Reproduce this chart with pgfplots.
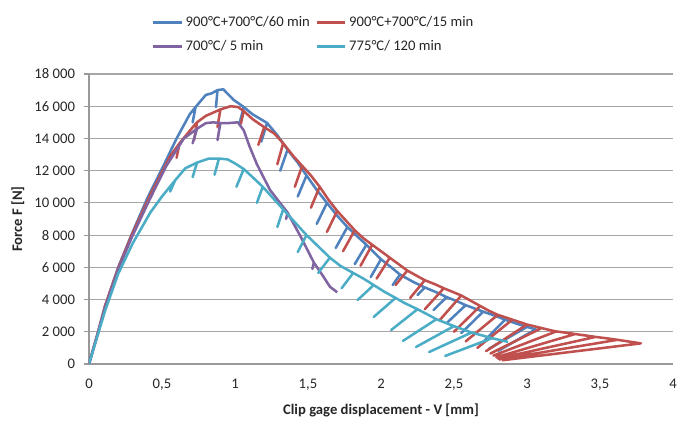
\documentclass[border=0pt]{standalone}
\usepackage{fontspec}
\setmainfont{Carlito}
\usepackage{pgfplots}
\pgfplotsset{compat=1.18}
\definecolor{cblue}{HTML}{4F81BD}
\definecolor{cred}{HTML}{C0504D}
\definecolor{cpurple}{HTML}{8064A2}
\definecolor{ccyan}{HTML}{4BACC6}
\begin{document}
\begin{tikzpicture}
\begin{axis}[
  scale only axis, width=438pt, height=217.5pt,
  xmin=0, xmax=4, ymin=0, ymax=18000,
  xtick={0,0.5,1,1.5,2,2.5,3,3.5,4},
  ytick={0,2000,4000,6000,8000,10000,12000,14000,16000,18000},
  scaled y ticks=false,
  axis x line*=bottom, axis y line*=left,
  axis line style={draw=black!40, line width=0.9pt, -},
  ymajorgrids, grid style={black!35, line width=0.9pt},
  tick align=outside, major tick length=4pt,
  xtick style={draw=none}, ytick style={draw=black!40, line width=0.9pt},
  tick label style={font=\fontsize{11}{13}\selectfont, text=black!85},
  xticklabel style={yshift=-4pt},
  yticklabel style={xshift=-3pt},
  /pgf/number format/.cd, use comma, 1000 sep={\ }, assume math mode=true,
  /pgfplots/.cd,
  xlabel={\textbf{Clip gage displacement - V [mm]}},
  ylabel={\textbf{Force F [N]}},
  label style={font=\fontsize{11}{13}\selectfont, text=black!85},
  x label style={at={(axis description cs:0.5,-0.159)}, anchor=center},
  y label style={at={(axis description cs:-0.122,0.5)}, anchor=center},
  legend columns=2,
  legend cell align=left,
  legend style={at={(axis description cs:0.1,1.055)}, anchor=south west, draw=none, fill=none,
    font=\fontsize{11}{13}\selectfont, text=black!85, row sep=5pt,
    /tikz/every even column/.append style={column sep=2pt}},
  legend image post style={line width=2.2pt},
  legend image code/.code={\draw[#1] (0cm,0cm) -- (0.75cm,0cm);},
  every axis plot/.append style={line width=1.9pt, line join=round},
]
\coordinate (bbsw) at (rel axis cs:-0.1524,-0.2103);
\coordinate (bbne) at (rel axis cs:1.0086,1.2552);

\addplot[cblue] coordinates {
(0,0)(0.06,1920)(0.11,3600)(0.2,6000)(0.29,8000)(0.4,10300)(0.51,12300)(0.6,14000)(0.69,15500)
(0.73,15950)(0.71,15000)(0.73,15950)(0.8,16700)(0.84,16800)(0.88,17000)(0.87,15950)(0.88,17000)
(0.92,17050)(0.99,16400)(1.06,15950)(1.03,14900)(1.06,15950)(1.12,15500)(1.22,14960)(1.18,13800)
(1.22,14960)(1.29,14200)(1.36,13300)(1.31,12000)(1.36,13300)(1.43,12500)(1.49,11700)(1.43,10400)
(1.49,11700)(1.56,10800)(1.63,10000)(1.56,8700)(1.63,10000)(1.70,9200)(1.77,8500)(1.69,7200)
(1.77,8500)(1.84,7900)(1.9,7400)(1.82,6200)(1.9,7400)(1.95,6950)(2.0,6500)(1.93,5400)(2.0,6500)
(2.07,6000)(2.13,5550)(2.08,4900)(2.13,5550)(2.22,5100)(2.3,4750)(2.25,4280)(2.3,4750)(2.38,4450)
(2.45,4150)(2.36,3350)(2.45,4150)(2.52,3900)(2.58,3650)(2.45,2540)(2.58,3650)(2.64,3450)(2.7,3250)
(2.55,1920)(2.7,3250)(2.78,3000)(2.85,2750)(2.68,1180)(2.85,2750)(2.93,2500)(3.0,2300)(2.74,950)
(3.0,2300)(3.06,2150)(2.8,800)
};
\addlegendentry{900°C+700°C/60 min}

\addplot[cred] coordinates {
(0,0)(0.06,1920)(0.11,3600)(0.2,5950)(0.29,7950)(0.42,10500)(0.556,12900)(0.62,13700)(0.60,12800)
(0.62,13700)(0.72,14800)(0.74,15000)(0.72,13900)(0.74,15000)(0.8,15400)(0.9,15800)(0.88,14700)
(0.9,15800)(0.97,16000)(1.02,15950)(1.06,15700)(1.04,14900)(1.06,15700)(1.12,15200)(1.2,14700)
(1.16,13600)(1.2,14700)(1.27,14300)(1.33,13700)(1.29,12400)(1.33,13700)(1.40,12900)(1.46,12300)
(1.41,11000)(1.46,12300)(1.52,11700)(1.58,11000)(1.52,9700)(1.58,11000)(1.64,10200)(1.70,9500)
(1.63,8200)(1.70,9500)(1.76,8900)(1.82,8300)(1.74,7000)(1.82,8300)(1.88,7800)(1.94,7400)(1.86,6100)
(1.94,7400)(2.0,7000)(2.06,6600)(1.97,5300)(2.06,6600)(2.12,6200)(2.18,5800)(2.1,4900)(2.18,5800)
(2.24,5500)(2.3,5200)(2.2,4100)(2.3,5200)(2.37,4950)(2.43,4700)(2.3,3400)(2.43,4700)(2.49,4480)
(2.55,4250)(2.4,2700)(2.55,4250)(2.62,3900)(2.68,3600)(2.5,2000)(2.68,3600)(2.74,3300)(2.8,3050)
(2.58,1400)(2.8,3050)(2.85,2900)(2.9,2750)(2.66,1000)(2.9,2750)(2.95,2600)(3.0,2450)(2.72,800)
(3.0,2450)(3.05,2340)(3.1,2230)(2.75,650)(3.1,2230)(3.15,2120)(3.2,2020)(2.77,520)(3.2,2020)
(3.27,1940)(3.33,1860)(2.79,420)(3.33,1860)(3.4,1770)(3.47,1680)(2.8,340)(3.47,1680)(3.55,1590)
(3.62,1500)(2.81,280)(3.62,1500)(3.7,1390)(3.78,1280)(2.83,230)
};
\addlegendentry{900°C+700°C/15 min}

\addplot[cpurple] coordinates {
(0,0)(0.06,1880)(0.11,3500)(0.2,5850)(0.29,7800)(0.42,10300)(0.53,12300)(0.65,14000)(0.74,14600)
(0.71,13700)(0.74,14600)(0.8,14950)(0.85,15000)(0.9,14950)(0.88,13900)(0.9,14950)(0.95,14950)
(1.02,15000)(1.06,14500)(1.1,13500)(1.15,12400)(1.24,10800)(1.3,10100)(1.36,9400)(1.35,9000)
(1.36,9400)(1.45,7900)(1.54,6300)(1.53,5900)(1.54,6300)(1.6,5500)(1.65,4800)(1.7,4450)
};
\addlegendentry{700°C/ 5 min}

\addplot[ccyan] coordinates {
(0,0)(0.06,1800)(0.11,3300)(0.2,5600)(0.3,7500)(0.42,9400)(0.5,10400)(0.59,11400)(0.556,10700)
(0.59,11400)(0.66,12150)(0.74,12500)(0.71,11600)(0.74,12500)(0.82,12750)(0.89,12750)(0.86,11750)
(0.89,12750)(0.95,12700)(1.0,12450)(1.06,12100)(1.01,11000)(1.06,12100)(1.12,11600)(1.19,11000)
(1.15,10000)(1.19,11000)(1.26,10300)(1.33,9600)(1.29,8500)(1.33,9600)(1.41,8800)(1.49,8000)
(1.43,6950)(1.49,8000)(1.57,7300)(1.65,6600)(1.57,5650)(1.65,6600)(1.72,6100)(1.81,5650)
(1.73,4700)(1.81,5650)(1.88,5300)(1.95,4900)(1.84,3970)(1.95,4900)(2.02,4500)(2.1,4100)(1.95,2920)
(2.1,4100)(2.16,3790)(2.25,3400)(2.07,2110)(2.25,3400)(2.32,3070)(2.38,2780)(2.15,1430)(2.38,2780)
(2.44,2560)(2.5,2350)(2.24,1055)(2.5,2350)(2.56,2150)(2.62,1950)(2.33,745)(2.62,1950)(2.69,1780)
(2.76,1600)(2.44,500)(2.76,1600)(2.82,1480)(2.87,1370)
};
\addlegendentry{775°C/ 120 min}
\end{axis}
\pgfresetboundingbox
\path[use as bounding box] (bbsw) rectangle (bbne);
\end{tikzpicture}
\end{document}
